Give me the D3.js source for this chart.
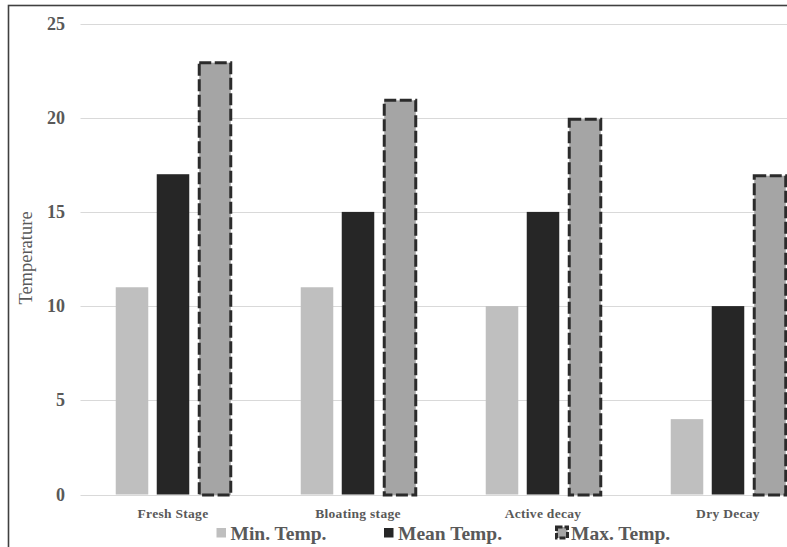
<!DOCTYPE html>
<html>
<head>
<meta charset="utf-8">
<script src="https://cdn.jsdelivr.net/npm/d3@7"></script>
<style>
  body { margin: 0; background: #fff; }
  text { font-family: "Liberation Serif", "Times New Roman", serif; fill: #595959; }
</style>
</head>
<body>
<script>
// data
var categories = ["Fresh Stage", "Bloating stage", "Active decay", "Dry Decay"];
var seriesNames = ["Min. Temp.", "Mean Temp.", "Max. Temp."];
var minTemp = [11, 11, 10, 4];
var meanTemp = [17, 15, 15, 10];
var maxTemp = [23, 21, 20, 17];
var yTicks = [0, 5, 10, 15, 20, 25];

var seriesValues = [minTemp, meanTemp, maxTemp];
var fills = ["#bfbfbf", "#262626", "#a5a5a5"];

var w = 787, h = 547;

var svg = d3.select("body")
            .append("svg")
            .attr("width", w)
            .attr("height", h);

// frame
svg.append("rect")
   .attr("x", 8.5).attr("y", 5.5)
   .attr("width", 900).attr("height", 700)
   .attr("fill", "none")
   .attr("stroke", "#404040")
   .attr("stroke-width", 1.6);

var yScale = d3.scaleLinear()
               .domain([0, 25])
               .range([494.5, 23.5]);

var xScale = d3.scaleBand()
               .domain(categories)
               .range([80.5, 820.5])
               .paddingInner(0.381)
               .paddingOuter(0.1905);

var xSub = d3.scaleBand()
             .domain(d3.range(3))
             .range([0, xScale.bandwidth()])
             .paddingInner(0.207);

// gridlines
svg.append("g")
   .selectAll("line")
   .data(yTicks)
   .enter()
   .append("line")
   .attr("x1", 80.5)
   .attr("x2", w)
   .attr("y1", (d) => Math.round(yScale(d)) + 0.5)
   .attr("y2", (d) => Math.round(yScale(d)) + 0.5)
   .attr("stroke", "#d9d9d9")
   .attr("stroke-width", 1);

// y tick labels
svg.append("g")
   .selectAll("text")
   .data(yTicks)
   .enter()
   .append("text")
   .attr("x", 65)
   .attr("y", (d) => yScale(d) + 6)
   .attr("text-anchor", "end")
   .style("font-size", "18px")
   .style("font-weight", "bold")
   .text((d) => d);

// axis title
svg.append("text")
   .attr("transform", "translate(32," + 258 + ") rotate(-90)")
   .attr("text-anchor", "middle")
   .style("font-size", "18.5px")
   .text("Temperature");

// bars
var flat = [];
categories.forEach(function(c, i) {
  seriesValues.forEach(function(vals, s) {
    flat.push({cat: c, s: s, v: vals[i]});
  });
});

svg.append("g")
   .selectAll("rect")
   .data(flat)
   .enter()
   .append("rect")
   .attr("x", (d) => xScale(d.cat) + xSub(d.s) + (d.s == 2 ? 1.5 : 0))
   .attr("y", (d) => yScale(d.v) + (d.s == 2 ? 1.5 : 0))
   .attr("width", (d) => xSub.bandwidth() - (d.s == 2 ? 1 : 0))
   .attr("height", (d) => yScale(0) - yScale(d.v) - (d.s == 2 ? 1 : 0))
   .attr("fill", (d) => fills[d.s])
   .attr("stroke", (d) => d.s == 2 ? "#2b2b2b" : "none")
   .attr("stroke-width", 3)
   .attr("stroke-dasharray", "12,3.5");

// category labels
svg.append("g")
   .selectAll("text")
   .data(categories)
   .enter()
   .append("text")
   .attr("x", (d) => xScale(d) + xScale.bandwidth() / 2)
   .attr("y", 517.5)
   .attr("text-anchor", "middle")
   .style("font-size", "13.5px")
   .style("font-weight", "bold")
   .style("letter-spacing", "0.3px")
   .text((d) => d);

// legend
var legendX = [216.5, 384, 555];
var legend = svg.append("g")
   .selectAll("g")
   .data(seriesNames)
   .enter()
   .append("g")
   .attr("transform", (d, i) => "translate(" + legendX[i] + ",0)");

legend.append("rect")
   .attr("x", (d, i) => i == 2 ? 1.5 : 0)
   .attr("y", (d, i) => i == 2 ? 527 : 528)
   .attr("width", (d, i) => i == 2 ? 11 : 9.5)
   .attr("height", (d, i) => i == 2 ? 11 : 9.5)
   .attr("fill", (d, i) => fills[i])
   .attr("stroke", (d, i) => i == 2 ? "#2b2b2b" : "none")
   .attr("stroke-width", 3)
   .attr("stroke-dasharray", "6,2");

legend.append("text")
   .attr("x", (d, i) => i == 2 ? 16 : 14)
   .attr("y", 539.5)
   .style("font-size", "19.5px")
   .style("font-weight", "bold")
   .text((d) => d);
</script>
</body>
</html>
